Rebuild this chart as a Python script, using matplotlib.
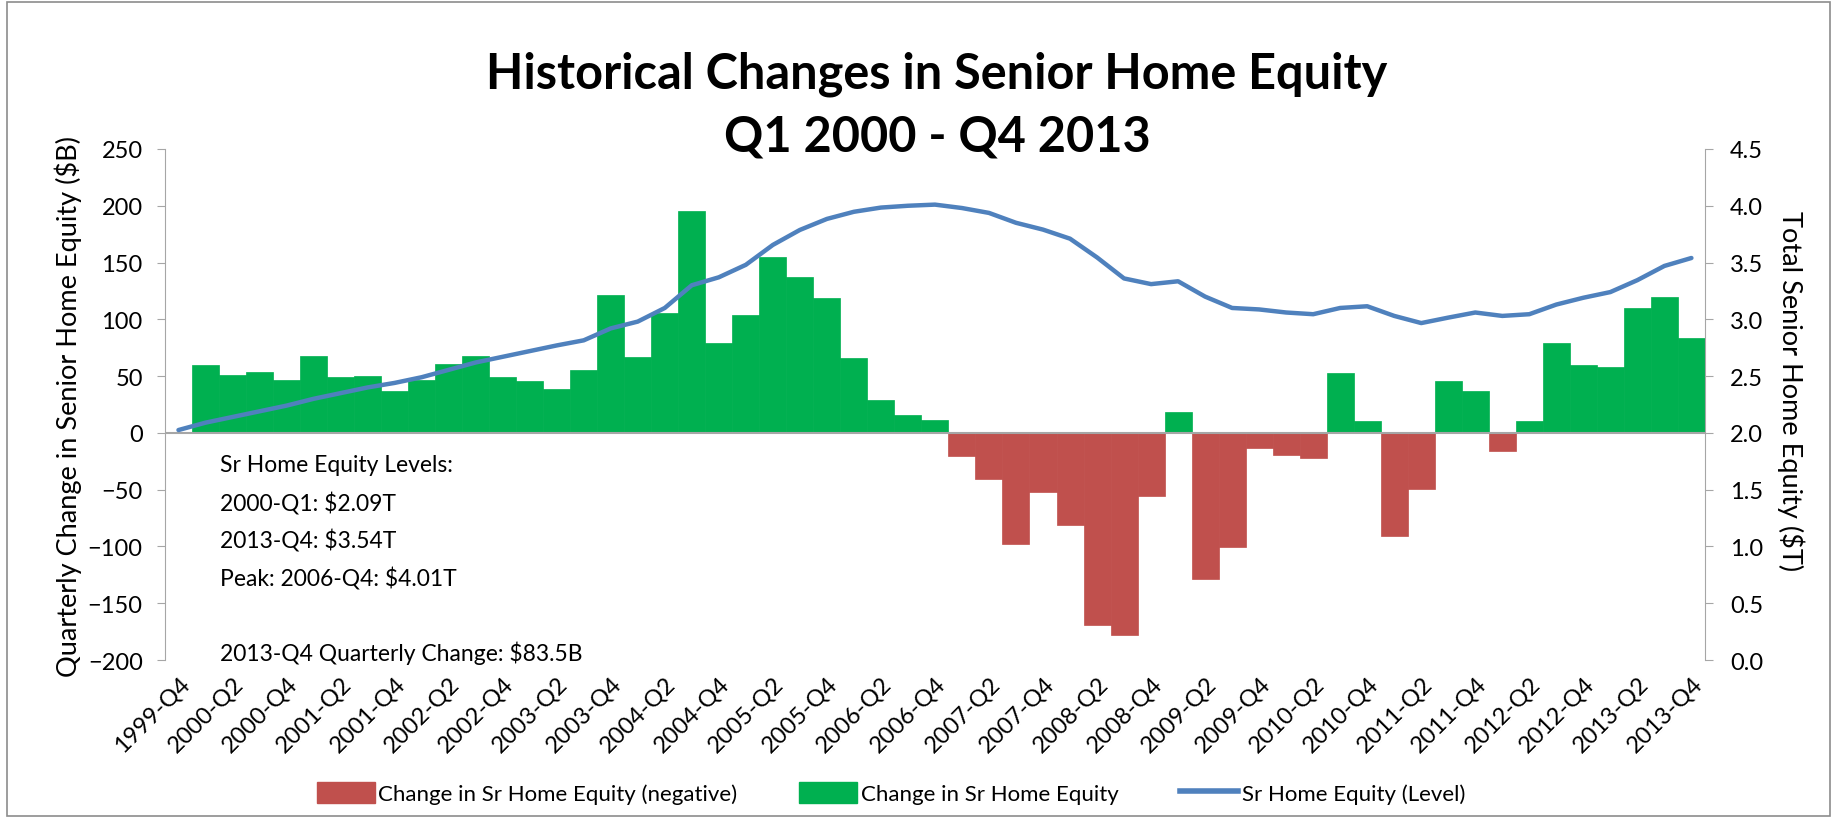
import numpy as np
import matplotlib.pyplot as plt
from matplotlib.patches import Patch, Rectangle
from matplotlib.lines import Line2D

plt.rcParams['font.family'] = ['Lato', 'DejaVu Sans']

# quarters 1999-Q4 .. 2013-Q4
quarters = ["1999-Q4"] + [f"{y}-Q{q}" for y in range(2000, 2014) for q in range(1, 5)]

# quarterly change in senior home equity ($B), no bar for 1999-Q4
change = [np.nan,
          60, 51, 54, 47, 68, 49, 50, 37,
          47, 61, 68, 49, 46, 38.5, 55, 121, 67, 106, 195,
          79.5, 104, 155, 137, 119, 66, 28.6, 15.4, 11.3,
          -20.4, -41, -97.5, -52.5, -81.4, -169.5, -177.7, -55.7, 18.2, -129, -100.6,
          -13.2, -19.8, -21.7, 53, 10.4, -90.5, -49, 46, 36.5, -16.3, 10.4,
          79, 60, 58, 109.7, 120, 83.5]

# total senior home equity level ($T)
level = [2.025, 2.09, 2.14, 2.19, 2.24, 2.30, 2.35, 2.40, 2.44, 2.49,
         2.555, 2.62, 2.67, 2.72, 2.77, 2.815, 2.92, 2.98, 3.10, 3.30,
         3.37, 3.48, 3.655, 3.787, 3.884, 3.947, 3.984, 4.00, 4.01, 3.98,
         3.937, 3.85, 3.79, 3.71, 3.545, 3.36, 3.31, 3.335, 3.20, 3.10,
         3.087, 3.06, 3.045, 3.10, 3.115, 3.03, 2.967, 3.015, 3.06, 3.03,
         3.045, 3.13, 3.19, 3.24, 3.345, 3.47, 3.54]

notes = ["Sr Home Equity Levels:",
         "2000-Q1: $2.09T",
         "2013-Q4: $3.54T",
         "Peak: 2006-Q4: $4.01T",
         "",
         "2013-Q4 Quarterly Change: $83.5B"]

red = "#C0504D"
green = "#00B050"
blue = "#4F81BD"
grey = "#A6A6A6"

chg = np.array(change, dtype=float)
x = np.arange(len(quarters))
pos = np.where(chg >= 0, chg, 0)
neg = np.where(chg < 0, chg, 0)

fig = plt.figure(figsize=(18.37, 8.2), dpi=100)
ax = fig.add_axes([0.0898, 0.1939, 0.8383, 0.6232])

ax.bar(x, neg, width=1.0, color=red, edgecolor=red, linewidth=0.5)
ax.bar(x, pos, width=1.0, color=green, edgecolor=green, linewidth=0.5)
ax.axhline(0, color=grey, lw=1.5, zorder=3)

ax.set_xlim(-0.5, len(quarters) - 0.5)
ax.set_ylim(-200, 250)
ax.set_yticks(range(-200, 251, 50))
ax.set_xticks(x[::2])
ax.set_xticklabels(quarters[::2], rotation=45, ha="right", rotation_mode="anchor")
ax.tick_params(axis="x", length=0, labelsize=17, pad=9)
ax.tick_params(axis="y", labelsize=17, color=grey, length=6, pad=10)
for s in ["top", "right", "bottom"]:
    ax.spines[s].set_visible(False)
ax.spines["left"].set_color(grey)

ax2 = ax.twinx()
ax2.plot(x, level, color=blue, lw=3.2, solid_capstyle="round", zorder=5)
ax2.set_ylim(0, 4.5)
ax2.set_yticks(np.arange(0, 4.51, 0.5))
ax2.set_yticklabels([f"{v:.1f}" for v in np.arange(0, 4.51, 0.5)])
ax2.tick_params(axis="y", labelsize=17, color=grey, length=6, pad=12)
for s in ["top", "left", "bottom"]:
    ax2.spines[s].set_visible(False)
ax2.spines["right"].set_color(grey)

fig.text(0.0373, 0.504, "Quarterly Change in Senior Home Equity ($B)", rotation=90,
         ha="center", va="center", fontsize=19.5)
fig.text(0.975, 0.523, "Total Senior Home Equity ($T)", rotation=270,
         ha="center", va="center", fontsize=19.5)

for i, t in enumerate(notes):
    ax.text(0.0357, 0.3816 - i * 0.0734, t, transform=ax.transAxes, fontsize=16.5, va="center")

fig.text(0.51, 0.91, "Historical Changes in Senior Home Equity", ha="center", va="center",
         fontsize=35, fontweight="bold")
fig.text(0.51, 0.833, "Q1 2000 - Q4 2013", ha="center", va="center",
         fontsize=35, fontweight="bold")

handles = [Patch(color=red), Patch(color=green), Line2D([0], [0], color=blue, lw=4)]
labels = ["Change in Sr Home Equity (negative)", "Change in Sr Home Equity", "Sr Home Equity (Level)"]
fig.legend(handles, labels, loc="center", bbox_to_anchor=(0.485, 0.032), ncol=3, frameon=False,
           fontsize=16, handlelength=2.6, handleheight=1.1, columnspacing=2.8, handletextpad=0.15)

fig.add_artist(Rectangle((0.004, 0.004), 0.992, 0.992, transform=fig.transFigure,
                         fill=False, edgecolor="#8C8C8C", lw=1.2))

plt.savefig("out.png", dpi=100)
